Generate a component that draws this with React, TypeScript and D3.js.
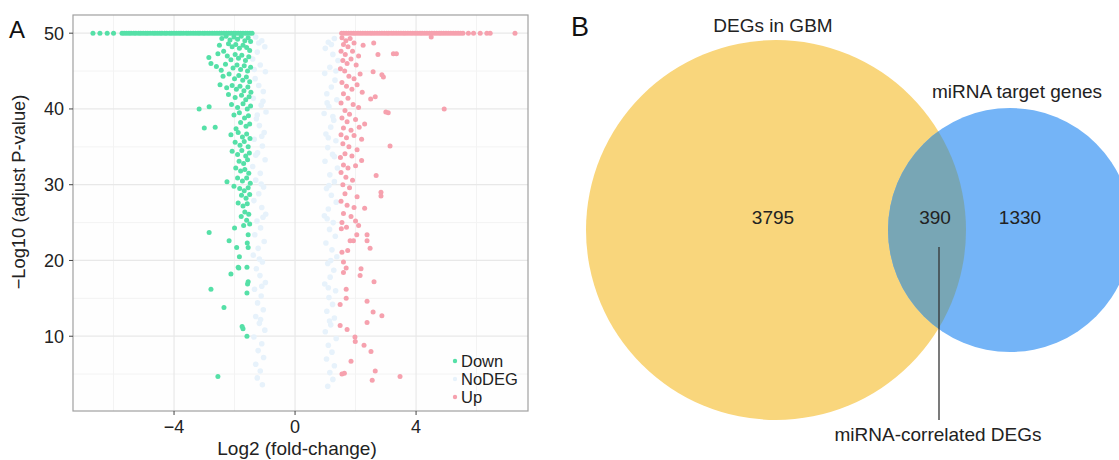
import React from 'react'
import * as d3 from 'd3'

// volcano plot data (log2 FC, -log10 adj p), capped at 50
const downCapX = [-6.68, -6.45, -6.21, -6.0, -5.72, -5.65, -5.57, -5.49, -5.42, -5.33, -5.26, -5.17, -5.1, -5.02, -4.94, -4.87, -4.79, -4.7, -4.63, -4.55, -4.47, -4.4, -4.31, -4.24, -4.15, -4.08, -4.0, -3.92, -3.84, -3.77, -3.69, -3.6, -3.53, -3.45, -3.37, -3.29, -3.21, -3.14, -3.05, -2.98, -2.9, -2.82, -2.74, -2.66, -2.58, -2.5, -2.43, -2.35, -2.27, -2.19, -2.11, -2.03, -1.96, -1.88, -1.8, -1.72, -1.64, -1.57, -1.49, -1.42]
const upCapX = [1.54, 1.61, 1.69, 1.77, 1.85, 1.93, 2.0, 2.08, 2.16, 2.24, 2.32, 2.4, 2.48, 2.55, 2.63, 2.71, 2.79, 2.87, 2.95, 3.03, 3.1, 3.18, 3.26, 3.34, 3.42, 3.5, 3.58, 3.65, 3.73, 3.81, 3.89, 3.97, 4.05, 4.13, 4.2, 4.28, 4.36, 4.44, 4.52, 4.6, 4.68, 4.76, 4.83, 4.91, 4.99, 5.07, 5.15, 5.23, 5.31, 5.39, 5.47, 5.55, 5.73, 5.9, 6.12, 6.34, 6.45, 7.27]

const downPts: [number, number][] = [
  [-2.42, 49.3], [-2.28, 49.6], [-2.15, 49.1], [-2.02, 49.5], [-1.9, 49.2], [-1.78, 49.6], [-1.66, 49.0], [-1.55, 49.4], [-1.47, 48.9],
  [-2.5, 48.4], [-2.2, 48.6], [-2.08, 48.2], [-1.96, 48.5], [-1.84, 48.0], [-1.72, 48.4], [-1.6, 48.1], [-1.5, 47.7],
  [-2.85, 46.8], [-2.78, 46.0], [-2.55, 47.3], [-2.36, 47.6], [-2.24, 47.0], [-2.12, 46.5], [-1.98, 47.2], [-1.87, 46.7], [-1.76, 47.1], [-1.64, 46.4], [-1.53, 46.9],
  [-2.6, 45.6], [-2.44, 45.1], [-2.3, 45.9], [-2.05, 45.4], [-1.92, 45.8], [-1.8, 45.2], [-1.68, 45.7], [-1.57, 45.0], [-1.47, 45.5],
  [-2.38, 44.3], [-2.18, 44.6], [-2.0, 44.0], [-1.86, 44.4], [-1.73, 43.8], [-1.61, 44.2], [-1.5, 43.6],
  [-2.48, 43.2], [-2.26, 42.8], [-2.08, 43.1], [-1.94, 42.6], [-1.82, 43.0], [-1.69, 42.4], [-1.56, 42.9], [-1.46, 42.2],
  [-2.2, 41.9], [-1.98, 41.5], [-1.77, 41.8], [-1.63, 41.2], [-1.52, 41.6],
  [-3.17, 40.0], [-2.84, 40.3], [-2.1, 40.6], [-1.9, 40.2], [-1.72, 40.7], [-1.58, 40.0], [-1.47, 40.4],
  [-3.0, 37.5], [-2.64, 37.6], [-2.02, 39.2], [-1.84, 39.5], [-1.67, 38.8], [-1.54, 39.1], [-1.8, 38.2], [-1.62, 37.7], [-1.5, 38.0], [-1.95, 37.4],
  [-2.12, 36.6], [-1.88, 36.9], [-1.74, 36.3], [-1.6, 36.7], [-1.49, 36.1], [-1.98, 35.6], [-1.82, 35.2], [-1.68, 35.7], [-1.55, 35.0],
  [-2.08, 34.4], [-1.9, 34.0], [-1.76, 34.5], [-1.63, 33.8], [-1.51, 34.2], [-1.85, 33.1], [-1.7, 32.8], [-1.57, 33.3],
  [-2.25, 30.4], [-1.96, 32.2], [-1.8, 31.8], [-1.66, 32.0], [-1.53, 31.5], [-1.9, 30.9], [-1.74, 30.5], [-1.6, 30.9], [-1.48, 30.2],
  [-2.02, 29.8], [-1.83, 29.5], [-1.68, 29.2], [-1.55, 29.6], [-1.77, 28.6], [-1.62, 28.2], [-1.5, 28.7],
  [-1.88, 27.6], [-1.72, 27.2], [-1.58, 27.5], [-1.66, 26.4], [-1.53, 26.1], [-1.78, 25.8], [-1.6, 25.3], [-1.5, 24.8], [-1.7, 24.6],
  [-2.84, 23.7], [-2.0, 24.3], [-2.18, 22.6], [-1.93, 21.7], [-1.84, 20.5], [-2.12, 18.2], [-1.88, 19.1], [-1.59, 19.1],
  [-2.78, 16.2], [-1.59, 15.7], [-2.35, 13.8], [-1.75, 11.3], [-1.72, 11.0], [-1.59, 10.0], [-2.55, 4.7], [-1.55, 17.2],
  [-1.55, 21.7], [-1.55, 23.4], [-1.58, 22.3], [-1.86, 19.0], [-1.57, 16.9],
]

const upPts: [number, number][] = [
  [1.55, 49.4], [1.68, 49.0], [1.82, 49.3], [1.6, 48.5], [1.75, 48.2], [1.95, 48.7], [2.25, 48.4], [2.6, 48.7], [4.5, 49.5],
  [1.52, 47.6], [1.66, 47.2], [1.9, 47.6], [2.1, 47.0], [2.74, 47.2], [3.25, 47.3], [3.35, 47.3],
  [1.58, 46.4], [1.72, 46.0], [1.85, 46.6], [2.02, 45.8], [1.5, 45.3], [1.64, 45.0], [2.58, 44.9], [2.87, 44.5], [2.92, 44.2],
  [1.78, 44.3], [1.95, 44.0], [2.15, 44.6], [1.55, 43.5], [1.7, 43.0], [1.88, 42.6], [2.05, 43.2], [1.6, 42.0], [2.22, 42.2],
  [2.65, 41.6], [2.5, 41.3], [1.75, 41.4], [1.52, 40.8], [1.92, 40.6], [2.1, 40.2], [1.65, 39.8], [1.8, 39.3],
  [3.0, 39.6], [3.08, 39.5], [4.93, 40.0], [1.55, 38.8], [1.72, 38.3], [2.0, 38.6], [2.3, 38.0], [1.6, 37.5], [1.85, 37.2], [2.12, 37.6],
  [1.52, 36.6], [1.7, 36.2], [1.95, 36.5], [2.2, 36.0], [3.14, 35.1], [1.58, 35.4], [1.78, 35.0], [2.05, 34.6], [1.65, 34.1],
  [1.5, 33.6], [1.88, 33.8], [2.2, 33.2], [1.6, 32.6], [1.75, 32.2], [2.0, 32.5], [2.68, 31.2], [1.52, 31.6], [1.68, 31.0],
  [1.9, 30.6], [1.58, 30.0], [1.8, 29.6], [2.84, 29.0], [2.84, 28.5], [1.65, 28.8], [2.05, 28.4],
  [1.52, 27.8], [1.72, 27.3], [1.95, 27.0], [2.3, 26.9], [1.6, 26.2], [1.85, 25.8], [2.0, 25.2], [1.55, 25.0], [2.1, 24.6], [1.7, 24.4],
  [2.38, 23.4], [2.38, 22.6], [2.48, 21.6], [2.18, 18.9], [2.15, 18.0], [2.61, 17.2], [2.38, 14.6], [2.58, 13.2], [2.87, 12.7],
  [2.38, 11.8], [2.28, 8.8], [2.51, 8.0], [1.85, 6.7], [2.65, 5.4], [3.47, 4.7], [2.55, 4.2], [1.55, 5.0], [1.63, 5.1],
  [1.49, 11.4], [1.72, 10.9], [1.98, 9.9], [1.99, 9.3], [1.69, 15.0], [1.69, 16.2], [1.49, 14.2], [1.55, 21.1], [1.74, 21.3],
  [1.6, 19.8], [1.69, 19.0], [1.6, 18.4], [1.82, 22.6], [1.93, 22.6], [2.04, 23.4], [1.53, 24.2],
]

const noDegPts: [number, number][] = [
  [-1.3, 49.5], [-1.1, 49.0], [-1.0, 48.2], [-1.25, 47.5], [-1.4, 46.6], [-1.15, 45.8], [-0.98, 44.9], [-1.32, 44.0], [-1.2, 43.1],
  [-1.05, 42.3], [-1.38, 41.4], [-1.12, 40.5], [-0.96, 39.6], [-1.28, 38.7], [-1.18, 37.8], [-1.02, 36.9], [-1.35, 36.0],
  [-1.08, 35.1], [-1.24, 34.2], [-0.99, 33.3], [-1.4, 32.4], [-1.15, 31.5], [-1.3, 30.6], [-1.04, 29.7], [-1.2, 28.8],
  [-1.36, 27.9], [-1.1, 27.0], [-0.97, 26.1], [-1.26, 25.2], [-1.14, 24.3], [-1.33, 23.4], [-1.02, 22.5], [-1.22, 21.6],
  [-1.38, 20.7], [-1.08, 19.8], [-1.28, 18.9], [-1.16, 18.0], [-0.98, 17.1], [-1.34, 16.2], [-1.12, 15.3], [-1.24, 14.4],
  [-1.05, 13.5], [-1.3, 12.6], [-1.18, 11.7], [-1.0, 10.8], [-1.36, 9.9], [-1.1, 9.0], [-1.22, 8.1], [-1.04, 7.2],
  [-1.3, 6.3], [-1.15, 5.4], [-1.25, 4.5], [-1.08, 3.6],
  [-1.2, 48.7], [-1.35, 45.2], [-1.06, 41.0], [-1.25, 39.2], [-1.1, 36.4], [-1.3, 33.9], [-1.12, 30.1], [-1.06, 25.7], [-1.18, 20.2], [-1.1, 16.6], [-1.14, 12.2],
  [1.3, 49.3], [1.1, 48.8], [1.0, 48.0], [1.25, 47.2], [1.42, 46.4], [1.15, 45.5], [0.98, 44.7], [1.32, 43.8], [1.2, 42.9],
  [1.05, 42.0], [1.38, 41.2], [1.12, 40.3], [0.96, 39.4], [1.28, 38.5], [1.18, 37.6], [1.02, 36.7], [1.35, 35.8],
  [1.08, 34.9], [1.24, 34.0], [0.99, 33.1], [1.4, 32.2], [1.15, 31.3], [1.3, 30.4], [1.04, 29.5], [1.2, 28.6],
  [1.36, 27.7], [1.1, 26.8], [0.97, 25.9], [1.26, 25.0], [1.14, 24.1], [1.33, 23.2], [1.02, 22.3], [1.22, 21.4],
  [1.38, 20.5], [1.08, 19.6], [1.28, 18.7], [1.16, 17.8], [0.98, 16.9], [1.34, 16.0], [1.12, 15.1], [1.24, 14.2],
  [1.05, 13.3], [1.3, 12.4], [1.18, 11.5], [1.0, 10.6], [1.36, 9.7], [1.1, 8.8], [1.22, 7.9], [1.04, 7.0],
  [1.3, 6.1], [1.15, 5.2], [1.25, 4.3], [1.08, 3.4],
  [1.2, 48.5], [1.35, 45.0], [1.06, 40.8], [1.25, 39.0], [1.1, 36.2], [1.3, 33.7], [1.12, 29.9], [1.06, 25.5], [1.18, 20.0], [1.1, 16.4], [1.14, 12.0],
]

const xTicks = [-4, 0, 4]
const xMinor = [-6, -2, 2, 6]
const yTicks = [10, 20, 30, 40, 50]
const yMinor = [5, 15, 25, 35, 45]
const legendItems = ['Down', 'NoDEG', 'Up']

// venn data
const vennSets = ['DEGs in GBM', 'miRNA target genes']
const vennCounts = [3795, 390, 1330]
const vennOverlapLabel = 'miRNA-correlated DEGs'

const GREEN = '#55e0a7'
const PINK = '#f6a1ae'
const NODEG = '#e7f2fb'
const YELLOW = '#f9d67c'
const BLUE = '#74b4f7'
const OVERLAP = '#78a6b5'
const FONT = '"Liberation Sans", Arial, sans-serif'

const fmt = (v: number) => (v < 0 ? '\u2212' + Math.abs(v) : String(v))

export default function App() {
  const x = d3.scaleLinear().domain([-7.34, 7.7]).range([73, 528])
  const y = d3.scaleLinear().domain([0.13, 52.4]).range([411, 15])
  const r = 2.5
  const legendColors = [GREEN, NODEG, PINK]

  const yellow = { cx: 776, cy: 230, r: 190 }
  const blue = { cx: 1010, cy: 230, r: 122 }

  return (
    <svg width={1119} height={460} style={{ position: 'absolute', left: 0, top: 0, background: '#fff' }} fontFamily={FONT}>
      {/* panel A */}
      <text x={9} y={38} fontSize={24} fill="#111">A</text>
      <rect x={73} y={15} width={455} height={396} fill="#fefefe" />
      {xMinor.map((t) => (
        <line key={'xm' + t} x1={x(t)} x2={x(t)} y1={15} y2={411} stroke="#f3f3f3" strokeWidth={1} />
      ))}
      {yMinor.map((t) => (
        <line key={'ym' + t} x1={73} x2={528} y1={y(t)} y2={y(t)} stroke="#f3f3f3" strokeWidth={1} />
      ))}
      {xTicks.map((t) => (
        <line key={'xg' + t} x1={x(t)} x2={x(t)} y1={15} y2={411} stroke="#e8e8e8" strokeWidth={1.2} />
      ))}
      {yTicks.map((t) => (
        <line key={'yg' + t} x1={73} x2={528} y1={y(t)} y2={y(t)} stroke="#e8e8e8" strokeWidth={1.2} />
      ))}
      <g>
        {noDegPts.map((d, i) => (
          <circle key={'n' + i} cx={x(d[0])} cy={y(d[1])} r={2.8} fill={NODEG} />
        ))}
        {downCapX.map((v, i) => (
          <circle key={'dc' + i} cx={x(v)} cy={y(50)} r={r} fill={GREEN} />
        ))}
        {upCapX.map((v, i) => (
          <circle key={'uc' + i} cx={x(v)} cy={y(50)} r={r} fill={PINK} />
        ))}
        {downPts.map((d, i) => (
          <circle key={'d' + i} cx={x(d[0])} cy={y(d[1])} r={r} fill={GREEN} />
        ))}
        {upPts.map((d, i) => (
          <circle key={'u' + i} cx={x(d[0])} cy={y(d[1])} r={r} fill={PINK} />
        ))}
      </g>
      <rect x={73} y={15} width={455} height={396} fill="none" stroke="#a0a0a0" strokeWidth={1.2} />
      {xTicks.map((t) => (
        <g key={'xt' + t}>
          <line x1={x(t)} x2={x(t)} y1={411} y2={415} stroke="#444" />
          <text x={x(t)} y={433} textAnchor="middle" fontSize={18} fill="#222">{fmt(t)}</text>
        </g>
      ))}
      {yTicks.map((t) => (
        <g key={'yt' + t}>
          <line x1={69} x2={73} y1={y(t)} y2={y(t)} stroke="#444" />
          <text x={64} y={y(t) + 6.5} textAnchor="end" fontSize={18} fill="#222">{t}</text>
        </g>
      ))}
      <text x={297} y={455} textAnchor="middle" fontSize={19} fill="#222">Log2 (fold-change)</text>
      <text transform={`translate(25 ${192}) rotate(-90)`} textAnchor="middle" fontSize={18.3} fill="#222">
        {'\u2212Log10 (adjust P-value)'}
      </text>
      {legendItems.map((k, i) => (
        <g key={k}>
          <circle cx={455} cy={361 + i * 18} r={2.2} fill={legendColors[i]} />
          <text x={461} y={366.5 + i * 18} fontSize={16.5} fill="#222">{k}</text>
        </g>
      ))}

      {/* panel B */}
      <text x={571} y={36} fontSize={27} fill="#111">B</text>
      <defs>
        <clipPath id="clipYellow">
          <circle cx={yellow.cx} cy={yellow.cy} r={yellow.r} />
        </clipPath>
      </defs>
      <circle cx={yellow.cx} cy={yellow.cy} r={yellow.r} fill={YELLOW} />
      <circle cx={blue.cx} cy={blue.cy} r={blue.r} fill={BLUE} />
      <circle cx={blue.cx} cy={blue.cy} r={blue.r} fill={OVERLAP} clipPath="url(#clipYellow)" />
      <text x={773} y={32} textAnchor="middle" fontSize={19} fill="#222">{vennSets[0]}</text>
      <text x={1017} y={98} textAnchor="middle" fontSize={19} fill="#222">{vennSets[1]}</text>
      <text x={773} y={224} textAnchor="middle" fontSize={19} fill="#222">{vennCounts[0]}</text>
      <text x={935} y={224} textAnchor="middle" fontSize={19} fill="#222">{vennCounts[1]}</text>
      <text x={1020} y={224} textAnchor="middle" fontSize={19} fill="#222">{vennCounts[2]}</text>
      <line x1={939} x2={939} y1={247} y2={420} stroke="#333" strokeWidth={1.3} />
      <text x={938} y={441} textAnchor="middle" fontSize={19} fill="#222">{vennOverlapLabel}</text>
    </svg>
  )
}
